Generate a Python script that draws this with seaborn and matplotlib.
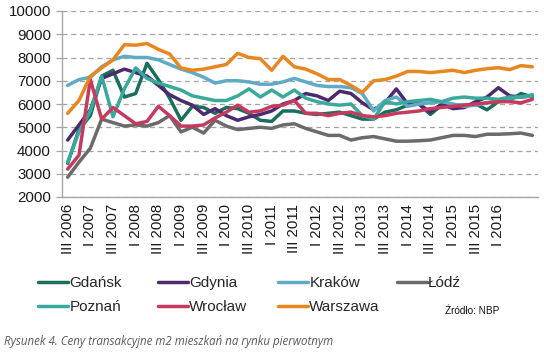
import numpy as np
import pandas as pd
import matplotlib
matplotlib.use("Agg")
import matplotlib.pyplot as plt
import seaborn as sns
from matplotlib.lines import Line2D

# ---- data -------------------------------------------------------------
quarters = (["III 2006", "IV 2006"]
            + [f"{q} {y}" for y in range(2007, 2017) for q in ["I", "II", "III", "IV"]])

gdansk = [3450, 4900, 5500, 7200, 7450, 6300, 6450, 7750, 7050, 6250, 5300, 5900, 5850, 5600,
          5850, 5800, 5600, 5300, 5250, 5700, 5700, 5600, 5550, 5600, 5650, 5500, 5350, 5350,
          5650, 5750, 5950, 6000, 5550, 5950, 5950, 5950, 6000, 5750, 6100, 6150, 6450, 6300]
gdynia = [4450, 5100, 5750, 7100, 7300, 7500, 7350, 7200, 6800, 6400, 6150, 5950, 5550, 5800,
          5500, 5300, 5450, 5550, 5700, 6000, 6150, 6450, 6350, 6150, 6550, 6450, 6050, 5750,
          6050, 6650, 6000, 6000, 5650, 6000, 5800, 5850, 6100, 6300, 6700, 6350, 6300, 6350]
krakow = [6800, 7050, 7150, 7600, 7900, 8050, 8000, 8000, 7900, 7700, 7500, 7350, 7150, 6900,
          7000, 7000, 6950, 6850, 6850, 6950, 7100, 6950, 6800, 6750, 6750, 6700, 6450, 5700,
          6150, 6300, 5900, 6000, 6050, 6100, 6000, 5900, 5950, 6050, 6150, 6250, 6300, 6350]
lodz = [2850, 3500, 4100, 5350, 5200, 5050, 5100, 5050, 5200, 5500, 4800, 5000, 4750, 5300,
        5050, 4900, 4950, 5000, 4950, 5100, 5150, 4950, 4800, 4650, 4650, 4450, 4550, 4600,
        4500, 4400, 4400, 4420, 4450, 4550, 4650, 4650, 4600, 4700, 4700, 4720, 4750, 4650]
poznan = [3500, 4800, 5700, 7200, 5450, 6650, 7550, 7100, 6900, 6750, 6600, 6350, 6250, 6150,
          6150, 6350, 6650, 6300, 6600, 6300, 6600, 6250, 6100, 6000, 5950, 6000, 5500, 5350,
          6100, 6000, 6100, 6150, 6200, 6100, 6250, 6300, 6250, 6250, 6200, 6300, 6300, 6400]
wroclaw = [3200, 3800, 7050, 5350, 5850, 5500, 5150, 5250, 5900, 5500, 5050, 5050, 5100, 5400,
           5650, 5950, 5650, 5700, 5900, 5950, 6150, 5600, 5600, 5500, 5600, 5650, 5500, 5450,
           5500, 5600, 5650, 5700, 5800, 5850, 5900, 5950, 6000, 6050, 6100, 6100, 6050, 6200]
warszawa = [5600, 6150, 7200, 7550, 7900, 8550, 8530, 8600, 8350, 8150, 7550, 7450, 7500, 7600,
            7700, 8180, 8000, 7950, 7450, 8050, 7600, 7500, 7300, 7050, 7050, 6800, 6500, 7000,
            7050, 7200, 7400, 7400, 7350, 7400, 7450, 7350, 7450, 7520, 7560, 7480, 7650, 7600]

cities = ["Gdańsk", "Gdynia", "Kraków", "Łódź", "Poznań", "Wrocław", "Warszawa"]
series = [gdansk, gdynia, krakow, lodz, poznan, wroclaw, warszawa]
colors = ["#1b6e5d", "#4d2a6e", "#5fabc6", "#6b6b6b", "#38a99a", "#c63a5e", "#e8861f"]
y_ticks = [2000, 3000, 4000, 5000, 6000, 7000, 8000, 9000, 10000]
source_text = "Źródło: NBP"
caption = "Rysunek 4. Ceny transakcyjne m2 mieszkań na rynku pierwotnym"

# ---- frame -----------------------------------------------------------
rows = []
for city, vals in zip(cities, series):
    for i, v in enumerate(vals):
        rows.append({"k": i, "quarter": quarters[i], "city": city, "value": v})
df = pd.DataFrame(rows)
palette = dict(zip(cities, colors))

sns.set_theme(style="white")
plt.rcParams["font.family"] = ["Liberation Sans", "DejaVu Sans"]

W, H = 544, 353
fig = plt.figure(figsize=(W / 100, H / 100), dpi=100)
ax = fig.add_axes([62 / W, 1 - 197 / H, 476 / W, 186 / H])

sns.lineplot(data=df, x="k", y="value", hue="city", hue_order=cities, palette=palette,
             linewidth=2.5, ax=ax, legend=False, errorbar=None)

ax.set_xlim(-0.5, len(quarters) - 0.5)
ax.set_ylim(2000, 10000)
ax.set_yticks(y_ticks)
ax.set_yticklabels([str(t) for t in y_ticks], fontsize=10.8, color="#1a1a1a")
lab_idx = list(range(0, 39, 2))
ax.set_xticks(lab_idx)
ax.set_xticklabels([quarters[i] for i in lab_idx], rotation=90, fontsize=10.8, color="#1a1a1a")
ax.set_xticks(np.arange(-0.5, len(quarters), 1), minor=True)
ax.tick_params(axis="x", which="major", length=0, pad=5)
ax.tick_params(axis="x", which="minor", length=4, color="#a6a6a6", width=0.9, direction="out")
ax.tick_params(axis="y", length=4, color="#a6a6a6", width=0.9, pad=4, left=True)
ax.set_xlabel("")
ax.set_ylabel("")
ax.yaxis.grid(True, linestyle=(0, (4, 3)), color="#a3a3a3", linewidth=0.9)
ax.xaxis.grid(False)
ax.set_axisbelow(True)
for s in ["top", "right"]:
    ax.spines[s].set_visible(False)
for s in ["left", "bottom"]:
    ax.spines[s].set_color("#a6a6a6")
    ax.spines[s].set_linewidth(1.0)

# ---- legend (Excel-like fixed grid) -----------------------------------
col_x = [38, 158, 278, 397]
row_y = [283, 307]
for i, (city, c) in enumerate(zip(cities, colors)):
    r, col = divmod(i, 4)
    fig.legend(handles=[Line2D([], [], color=c, lw=2.5)], labels=[city],
               loc="center left", bbox_to_anchor=(col_x[col] / W, 1 - row_y[r] / H),
               frameon=False, fontsize=11, handlelength=1.95, handletextpad=0.1,
               borderpad=0, borderaxespad=0)

fig.text(445 / W, 1 - 311 / H, source_text, fontsize=7.2, va="center", ha="left", color="#111111")
fig.text(4 / W, 1 - 341 / H, caption, fontsize=8.3, fontstyle="italic", va="center", ha="left",
         color="#5a5a5a", family=["Open Sans", "DejaVu Sans"])

fig.savefig("out.png", dpi=100)
